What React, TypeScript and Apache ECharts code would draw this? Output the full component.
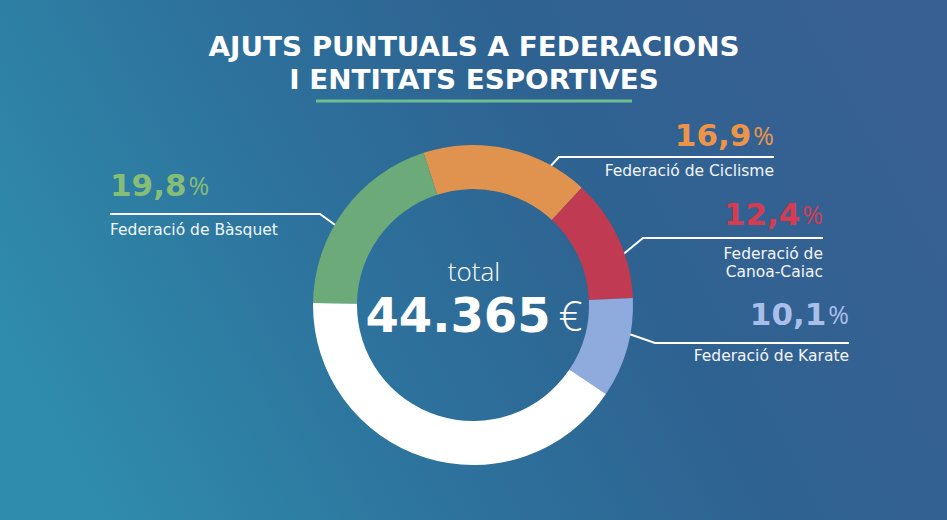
import { useEffect, useRef } from 'react';
import * as echarts from 'echarts';

// ---- data ----
const categories = ['Federació de Ciclisme', 'Federació de Canoa-Caiac', 'Federació de Karate', 'Altres', 'Federació de Bàsquet'];
const shares = [16.9, 12.4, 10.1, 40.8, 19.8];
const shareLabels = ['16,9', '12,4', '10,1', '', '19,8'];
const nameLines = [['Federació de Ciclisme'], ['Federació de', 'Canoa-Caiac'], ['Federació de Karate'], [], ['Federació de Bàsquet']];
const titleLines = ['AJUTS PUNTUALS A FEDERACIONS', 'I ENTITATS ESPORTIVES'];
const totalLabel = 'total';
const totalValue = '44.365';
const currency = '€';

// ---- styles ----
const sliceColors = ['#e0934f', '#c03b51', '#8faadc', '#ffffff', '#6caa7a'];
const labelColors = ['#ec9549', '#d53c52', '#a9bfe9', '#ffffff', '#86bd77'];

// annotation layout (positions only)
type Anno = { align: 'left' | 'right'; x: number; pctY: number; nameY: number; line: number[][] } | null;
const annoLayout: Anno[] = [
  { align: 'right', x: 774, pctY: 134, nameY: 171, line: [[535, 183], [559, 157], [774, 157]] },
  { align: 'right', x: 823, pctY: 213, nameY: 263, line: [[615, 261], [643, 238], [823, 238]] },
  { align: 'right', x: 849, pctY: 313, nameY: 356, line: [[612, 328], [655, 343], [849, 343]] },
  null,
  { align: 'left', x: 110, pctY: 184, nameY: 230, line: [[353, 238], [320, 214], [110, 214]] },
];

const TITLE_FONT = '"DejaVu Sans", sans-serif';
const BODY_FONT = '"DejaVu Sans", sans-serif';
const LIGHT_FONT = '"Open Sans", sans-serif';

export default function App() {
  const ref = useRef<HTMLDivElement>(null);
  useEffect(() => {
    if (!ref.current) return;
    const chart = echarts.init(ref.current, null, { renderer: 'svg' });

    const graphics: any[] = [];
    // title (two lines in one text)
    graphics.push({
      type: 'text', x: 474, y: 63.5, scaleX: 1.05,
      style: { text: titleLines.join('\n'), fill: '#ffffff', font: `bold 26.5px ${TITLE_FONT}`, align: 'center', verticalAlign: 'middle', lineHeight: 33 },
    });
    graphics.push({ type: 'line', shape: { x1: 316, y1: 101, x2: 632, y2: 101 }, style: { stroke: '#6cbf8f', lineWidth: 3 } });

    // center: total + amount
    graphics.push({
      type: 'text', x: 474, y: 295,
      style: {
        text: `{t|${totalLabel}}\n{a|${totalValue}}{b|${currency}}`, align: 'center', verticalAlign: 'middle',
        rich: {
          t: { fill: '#ffffff', fontFamily: LIGHT_FONT, fontWeight: 300, fontSize: 26, lineHeight: 40, verticalAlign: 'middle' },
          a: { fill: '#ffffff', fontFamily: TITLE_FONT, fontWeight: 'bold', fontSize: 48, lineHeight: 48, verticalAlign: 'bottom' },
          b: { fill: '#ffffff', fontFamily: LIGHT_FONT, fontWeight: 300, fontSize: 42, lineHeight: 42, verticalAlign: 'bottom', padding: [0, 0, 4, 8] },
        },
      },
    });

    // annotations
    annoLayout.forEach((a, i) => {
      if (!a) return;
      graphics.push({
        type: 'polyline', shape: { points: a.line },
        style: { stroke: '#ffffff', lineWidth: 2, fill: null },
      });
      graphics.push({
        type: 'text', x: a.x, y: a.pctY,
        style: {
          text: `{n|${shareLabels[i]}}{p|%}`, align: a.align, verticalAlign: 'middle',
          rich: {
            n: { fill: labelColors[i], fontFamily: TITLE_FONT, fontWeight: 'bold', fontSize: 31, lineHeight: 32, verticalAlign: 'bottom' },
            p: { fill: labelColors[i], fontFamily: LIGHT_FONT, fontWeight: 400, fontSize: 25, lineHeight: 25, verticalAlign: 'bottom', padding: [0, 0, 3, 2] },
          },
        },
      });
      graphics.push({
        type: 'text', x: a.x, y: a.nameY,
        style: { text: nameLines[i].join('\n'), fill: '#f2f5fa', font: `400 15.5px ${BODY_FONT}`, align: a.align, verticalAlign: 'middle', lineHeight: 18 },
      });
    });

    chart.setOption({
      animation: false,
      backgroundColor: {
        type: 'linear', x: 0, y: 0.65, x2: 1, y2: 0.35,
        colorStops: [
          { offset: 0, color: '#2f8cac' },
          { offset: 0.35, color: '#2d739d' },
          { offset: 0.65, color: '#2e6291' },
          { offset: 1, color: '#386093' },
        ],
      },
      series: [{
        type: 'pie',
        center: [473, 305],
        radius: [116, 160],
        startAngle: 108,
        clockwise: true,
        silent: true,
        label: { show: false },
        labelLine: { show: false },
        itemStyle: { borderWidth: 0 },
        data: categories.map((c, i) => ({ name: c, value: shares[i], itemStyle: { color: sliceColors[i] } })),
      }],
      graphic: graphics,
    });
    return () => chart.dispose();
  }, []);
  return <div ref={ref} style={{ position: 'fixed', left: 0, top: 0, width: 947, height: 520 }} />;
}
